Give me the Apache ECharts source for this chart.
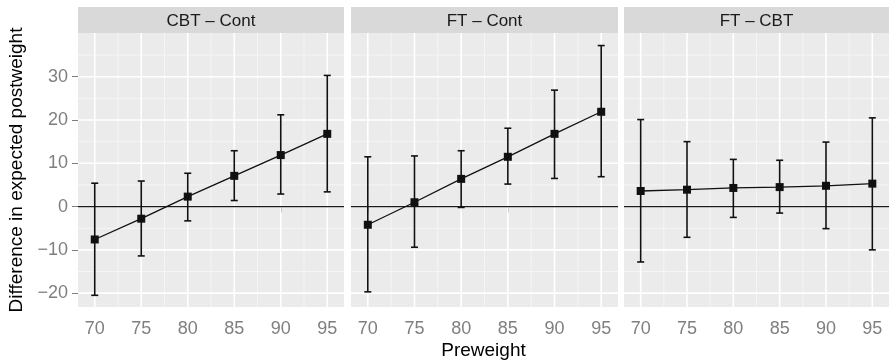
<!DOCTYPE html>
<html>
<head>
<meta charset="utf-8">
<script src="https://cdn.jsdelivr.net/npm/echarts@6.0.0/dist/echarts.min.js"></script>
<style>
html,body{margin:0;padding:0;background:#fff;}
#chart{width:889px;height:363px;}
</style>
</head>
<body>
<div id="chart"></div>
<script>
// ---- data ----
const preweight = [70, 75, 80, 85, 90, 95];
const panelNames = ['CBT \u2013 Cont', 'FT \u2013 Cont', 'FT \u2013 CBT'];

const estCBTCont  = [-7.6, -2.8, 2.3, 7.1, 11.9, 16.8];
const lowCBTCont  = [-20.5, -11.4, -3.3, 1.4, 2.9, 3.4];
const highCBTCont = [5.4, 5.9, 7.7, 12.9, 21.2, 30.3];

const estFTCont  = [-4.2, 1.0, 6.4, 11.5, 16.8, 21.9];
const lowFTCont  = [-19.7, -9.4, -0.2, 5.2, 6.5, 6.9];
const highFTCont = [11.5, 11.7, 12.9, 18.1, 26.9, 37.2];

const estFTCBT  = [3.6, 3.9, 4.3, 4.5, 4.8, 5.3];
const lowFTCBT  = [-12.8, -7.1, -2.5, -1.5, -5.1, -10.0];
const highFTCBT = [20.1, 15.0, 10.9, 10.7, 14.9, 20.5];

const xTicks = [70, 75, 80, 85, 90, 95];
const xMinor = [72.5, 77.5, 82.5, 87.5, 92.5];
const yTicks = [-20, -10, 0, 10, 20, 30];
const yMinor = [-15, -5, 5, 15, 25, 35];

// ---- layout ----
const panelLeft = [78, 351, 624];
const panelWidth = [266, 267, 265];
const panelTop = 33, panelHeight = 274, stripTop = 7, stripHeight = 26;
const xMin = 68.2, xMax = 96.8, yMin = -23.2, yMax = 40.1;
const FONT = '"Liberation Sans", Arial, Helvetica, sans-serif';

const est = [estCBTCont, estFTCont, estFTCBT];
const low = [lowCBTCont, lowFTCont, lowFTCBT];
const high = [highCBTCont, highFTCont, highFTCBT];

const grids = [], xAxes = [], yAxes = [], series = [], graphics = [];

function vLine(color, width) {
  return function (params, api) {
    const cs = params.coordSys;
    const x = api.coord([api.value(0), 0])[0];
    return { type: 'line', shape: { x1: x, y1: cs.y, x2: x, y2: cs.y + cs.height },
      style: { stroke: color, lineWidth: width } };
  };
}
function hLine(color, width) {
  return function (params, api) {
    const cs = params.coordSys;
    const y = api.coord([xMin, api.value(0)])[1];
    return { type: 'line', shape: { x1: cs.x, y1: y, x2: cs.x + cs.width, y2: y },
      style: { stroke: color, lineWidth: width } };
  };
}

for (let i = 0; i < 3; i++) {
  grids.push({ left: panelLeft[i], top: panelTop, width: panelWidth[i], height: panelHeight,
    show: true, backgroundColor: '#ebebeb', borderWidth: 0 });
  xAxes.push({ gridIndex: i, type: 'value', min: xMin, max: xMax,
    axisLine: { show: false }, splitLine: { show: false },
    axisTick: { show: true, customValues: xTicks, length: 6, lineStyle: { color: '#7f7f7f', width: 1 } },
    axisLabel: { customValues: xTicks, color: '#7f7f7f', fontSize: 18, margin: 13, fontFamily: FONT } });
  yAxes.push({ gridIndex: i, type: 'value', min: yMin, max: yMax,
    axisLine: { show: false }, splitLine: { show: false },
    axisTick: { show: i === 0, customValues: yTicks, length: 6, lineStyle: { color: '#7f7f7f', width: 1 } },
    axisLabel: { show: i === 0, customValues: yTicks, color: '#7f7f7f', fontSize: 18, margin: 10, fontFamily: FONT,
      formatter: v => String(v).replace('-', '\u2212') } });

  series.push({ type: 'custom', xAxisIndex: i, yAxisIndex: i, z: 1, silent: true,
    data: xMinor.map(v => [v]), renderItem: vLine('#f5f5f5', 1) });
  series.push({ type: 'custom', xAxisIndex: i, yAxisIndex: i, z: 1, silent: true,
    data: yMinor.map(v => [v]), renderItem: hLine('#f5f5f5', 1) });
  series.push({ type: 'custom', xAxisIndex: i, yAxisIndex: i, z: 2, silent: true,
    data: xTicks.map(v => [v]), renderItem: vLine('#ffffff', 1.6) });
  series.push({ type: 'custom', xAxisIndex: i, yAxisIndex: i, z: 2, silent: true,
    data: yTicks.map(v => [v]), renderItem: hLine('#ffffff', 1.6) });
  series.push({ type: 'custom', xAxisIndex: i, yAxisIndex: i, z: 3, silent: true,
    data: [[0]], renderItem: hLine('#1a1a1a', 1.2) });

  series.push({ type: 'line', xAxisIndex: i, yAxisIndex: i, z: 4, silent: true,
    data: preweight.map((x, k) => [x, est[i][k]]),
    symbol: 'rect', symbolSize: 8, showSymbol: true,
    lineStyle: { color: '#111', width: 1.3 }, itemStyle: { color: '#111' }, animation: false });

  series.push({ type: 'custom', xAxisIndex: i, yAxisIndex: i, z: 5, silent: true,
    data: preweight.map((x, k) => [x, low[i][k], high[i][k]]),
    renderItem: function (params, api) {
      const p1 = api.coord([api.value(0), api.value(1)]);
      const p2 = api.coord([api.value(0), api.value(2)]);
      const hw = 3.5, st = { stroke: '#111', lineWidth: 1.6 };
      return { type: 'group', children: [
        { type: 'line', shape: { x1: p1[0], y1: p1[1], x2: p2[0], y2: p2[1] }, style: st },
        { type: 'line', shape: { x1: p1[0] - hw, y1: p1[1], x2: p1[0] + hw, y2: p1[1] }, style: st },
        { type: 'line', shape: { x1: p2[0] - hw, y1: p2[1], x2: p2[0] + hw, y2: p2[1] }, style: st }
      ] };
    } });

  graphics.push({ type: 'rect', left: panelLeft[i], top: stripTop,
    shape: { width: panelWidth[i], height: stripHeight }, style: { fill: '#d9d9d9' } });
  graphics.push({ type: 'text', x: panelLeft[i] + panelWidth[i] / 2, y: stripTop + stripHeight / 2 + 1,
    style: { text: panelNames[i], fill: '#1a1a1a', font: '17px ' + FONT, align: 'center', verticalAlign: 'middle' } });
}

graphics.push({ type: 'text', x: (panelLeft[0] + panelLeft[2] + panelWidth[2]) / 2, y: 351,
  style: { text: 'Preweight', fill: '#000', font: '19px ' + FONT, align: 'center', verticalAlign: 'middle' } });
graphics.push({ type: 'text', x: 17, y: panelTop + panelHeight / 2, rotation: Math.PI / 2,
  style: { text: 'Difference in expected postweight', fill: '#000', font: '19px ' + FONT, align: 'center', verticalAlign: 'middle' } });

const chart = echarts.init(document.getElementById('chart'), null, { renderer: 'canvas' });
chart.setOption({
  animation: false,
  grid: grids, xAxis: xAxes, yAxis: yAxes, series: series, graphic: graphics
});
</script>
</body>
</html>
